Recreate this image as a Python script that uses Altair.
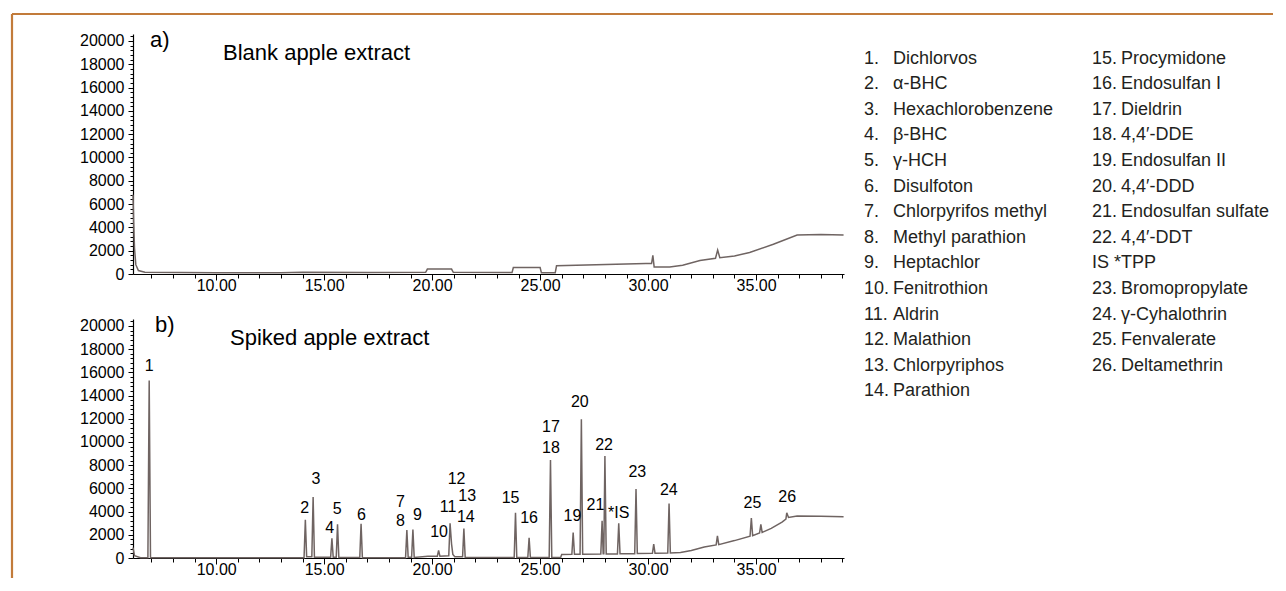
import altair as alt
import pandas as pd

# ---------------- data ----------------
top_time = [6.15, 6.18, 6.22, 6.28, 6.40, 6.70, 10.0, 13.0, 14.0, 17.0,
            19.7, 19.78, 20.9, 20.98, 23.7, 23.76, 25.0, 25.06, 25.7, 25.76,
            29.9, 30.16, 30.22, 30.28, 31.0, 31.6, 32.4, 33.12, 33.22, 33.32,
            34.0, 34.7, 35.8, 36.9, 38.0, 39.05]
top_signal = [6800, 4500, 2200, 800, 300, 150, 100, 100, 150, 130,
              150, 420, 420, 150, 120, 550, 550, 100, 100, 700,
              900, 900, 1600, 600, 600, 750, 1150, 1350, 2050, 1400,
              1550, 1850, 2550, 3350, 3400, 3350]

bottom_time = [6.15, 6.22, 6.50, 6.84, 6.90, 6.96,
               13.50, 14.07, 14.13, 14.19,
               14.43, 14.49, 14.55,
               15.30, 15.36, 15.42,
               15.56, 15.62, 15.68,
               16.65, 16.71, 16.77,
               18.77, 18.83, 18.89,
               19.05, 19.11, 19.17,
               19.80, 20.24, 20.30, 20.36,
               20.77, 20.83, 20.90, 20.96, 21.05,
               21.41, 21.47, 21.53,
               23.80, 23.86, 23.92,
               24.43, 24.49, 24.55,
               25.42, 25.48, 25.54,
               25.95, 26.00,
               26.47, 26.53, 26.59,
               26.85, 26.91, 26.97,
               27.81, 27.87, 27.92,
               27.95, 28.00, 28.06,
               28.58, 28.64, 28.70,
               29.38, 29.44, 29.50,
               30.20, 30.26, 30.32,
               30.91, 30.97, 31.03,
               31.50, 32.00, 32.60,
               33.15, 33.21, 33.27,
               34.00,
               34.72, 34.78, 34.84,
               35.16, 35.22, 35.28,
               35.70, 36.20, 36.38, 36.42, 36.50, 36.90, 38.00, 39.05]
bottom_signal = [900, 200, 30, 30, 15300, 30,
                 30, 30, 3300, 100,
                 100, 5250, 60,
                 60, 1700, 60,
                 60, 2900, 40,
                 40, 2950, 30,
                 30, 2400, 60,
                 60, 2450, 40,
                 150, 150, 650, 150,
                 200, 3000, 1200, 300, 100,
                 100, 2550, 50,
                 40, 3900, 40,
                 40, 1750, 40,
                 40, 8450, 40,
                 40, 300,
                 320, 2200, 320,
                 330, 11950, 330,
                 350, 3200, 360,
                 360, 8800, 350,
                 350, 3000, 360,
                 370, 5950, 380,
                 400, 1200, 400,
                 420, 4700, 430,
                 470, 650, 950,
                 1130, 1900, 1150,
                 1500,
                 1880, 3450, 1920,
                 2150, 2900, 2200,
                 2550, 3100, 3350, 3900, 3500, 3620, 3600, 3550]

peak_labels = ["1", "2", "3", "4", "5", "6", "7", "8", "9", "10", "11", "12", "13", "14",
               "15", "16", "17", "18", "19", "20", "21", "*IS", "22", "23", "24", "25", "26"]
label_time = [6.90, 14.10, 14.62, 15.26, 15.60, 16.73, 18.53, 18.53, 19.32, 20.32, 20.74,
              21.13, 21.62, 21.56, 23.63, 24.49, 25.50, 25.50, 26.50, 26.84, 27.56, 28.64,
              27.96, 29.50, 30.96, 34.83, 36.44]
label_signal = [16550, 4280, 6780, 2560, 4200, 3700, 4850, 3190, 3700, 2270, 4420,
                6780, 5340, 3530, 5200, 3420, 11290, 9510, 3620, 13450, 4540, 3900,
                9740, 7410, 5840, 4720, 5260]

legend_numbers = ["1.", "2.", "3.", "4.", "5.", "6.", "7.", "8.", "9.", "10.", "11.", "12.", "13.", "14.",
                  "15.", "16.", "17.", "18.", "19.", "20.", "21.", "22.", "IS *TPP", "23.", "24.", "25.", "26."]
legend_names = ["Dichlorvos", "α-BHC", "Hexachlorobenzene", "β-BHC", "γ-HCH", "Disulfoton",
                "Chlorpyrifos methyl", "Methyl parathion", "Heptachlor", "Fenitrothion", "Aldrin",
                "Malathion", "Chlorpyriphos", "Parathion",
                "Procymidone", "Endosulfan I", "Dieldrin", "4,4′-DDE", "Endosulfan II", "4,4′-DDD",
                "Endosulfan sulfate", "4,4′-DDT", "", "Bromopropylate", "γ-Cyhalothrin",
                "Fenvalerate", "Deltamethrin"]

panel_tags = ["a)", "b)"]
panel_titles = ["Blank apple extract", "Spiked apple extract"]

# ---------------- styling ----------------
SANS = "Liberation Sans"
TRACE = "#6f6462"
FRAME = "#C27B3A"
TEXT = "#231f20"

x_scale = alt.Scale(domain=[6.15, 39.07], nice=False, zero=False)
y_scale = alt.Scale(domain=[0, 20600], nice=False)

x_axis = alt.Axis(
    values=list(range(7, 40)),
    labelExpr="datum.value % 5 === 0 ? format(datum.value, '.2f') : ''",
    title=None, grid=False, labelOverlap=False, labelFlush=False,
    labelFont=SANS, labelFontSize=16, labelColor="black",
    domainColor="black", tickColor="black", domainWidth=1.2,
    tickSize={"condition": {"test": "datum.value % 5 === 0", "value": 6}, "value": 4},
    labelPadding=-3,
)
y_axis = alt.Axis(
    values=list(range(0, 20401, 400)),
    labelExpr="datum.value % 2000 === 0 ? format(datum.value, 'd') : ''",
    title=None, grid=False, labelOverlap=False, labelFlush=False,
    labelFont=SANS, labelFontSize=16, labelColor="black",
    domainColor="black", tickColor="black", domainWidth=1.2,
    tickSize={"condition": {"test": "datum.value % 2000 === 0", "value": 5}, "value": 3},
    labelPadding=4,
)

W = 711


def trace_layers(time, signal, idx, labels=None):
    df = pd.DataFrame({"t": time, "s": signal, "i": list(range(len(time)))})
    line = alt.Chart(df).mark_line(color=TRACE, strokeWidth=1.5).encode(
        x=alt.X("t:Q", scale=x_scale, axis=x_axis),
        y=alt.Y("s:Q", scale=y_scale, axis=y_axis),
        order="i:Q",
    )
    layers = [line]
    if labels is not None:
        ldf = pd.DataFrame({"t": labels[1], "s": labels[2], "lab": labels[0]})
        layers.append(
            alt.Chart(ldf).mark_text(font=SANS, fontSize=16, color="black",
                                     baseline="middle", align="center").encode(
                x=alt.X("t:Q", scale=x_scale, axis=x_axis),
                y=alt.Y("s:Q", scale=y_scale, axis=y_axis),
                text="lab:N",
            )
        )
    tag_df = pd.DataFrame({"lab": [panel_tags[idx]]})
    layers.append(
        alt.Chart(tag_df).mark_text(font=SANS, fontSize=22, color="black",
                                    align="left", baseline="middle").encode(
            x=alt.value(17 if idx == 0 else 22), y=alt.value(6), text="lab:N")
    )
    title_df = pd.DataFrame({"lab": [panel_titles[idx]]})
    layers.append(
        alt.Chart(title_df).mark_text(font=SANS, fontSize=22, color="black",
                                      align="left", baseline="middle").encode(
            x=alt.value(90 if idx == 0 else 97), y=alt.value(19), text="lab:N")
    )
    return layers


# frame around the figure (decorative)
fdf = pd.DataFrame({"k": [0]})
frame_h = alt.Chart(fdf).mark_rule(color=FRAME, strokeWidth=2.2).encode(
    x=alt.value(-121), x2=alt.value(1140), y=alt.value(-20))
frame_v = alt.Chart(fdf).mark_rule(color=FRAME, strokeWidth=2.2).encode(
    x=alt.value(-121), y=alt.value(-20), y2=alt.value(544))

# legend table (placed to the right of the top panel)
cols, rows = [], []
for k in range(len(legend_numbers)):
    if k < 14:
        cols.append(0)
        rows.append(k)
    else:
        cols.append(1)
        rows.append(k - 14)
leg_df = pd.DataFrame({"col": cols, "row": rows, "num": legend_numbers, "name": legend_names})
lx = alt.X("col:Q", scale=alt.Scale(domain=[0, 1], range=[731, 959], nice=False), axis=None)
ly = alt.Y("row:Q", scale=alt.Scale(domain=[0, 13], range=[29.5, 362.3], nice=False), axis=None)
leg_num = alt.Chart(leg_df).mark_text(font=SANS, fontSize=18, color=TEXT, align="left",
                                      baseline="alphabetic").encode(x=lx, y=ly, text="num:N")
leg_name = alt.Chart(leg_df).mark_text(font=SANS, fontSize=18, color=TEXT, align="left",
                                       baseline="alphabetic", dx=29).encode(x=lx, y=ly, text="name:N")

top = alt.layer(
    *trace_layers(top_time, top_signal, 0), frame_h, frame_v, leg_num, leg_name
).resolve_scale(x="independent", y="independent").properties(width=W, height=240)

bottom = alt.layer(
    *trace_layers(bottom_time, bottom_signal, 1,
                  labels=(peak_labels, label_time, label_signal))
).properties(width=W, height=239)

chart = alt.vconcat(top, bottom, spacing=45, bounds="flush").properties(
    padding={"left": 2, "top": 4, "right": 0, "bottom": 0},
    background="white",
).configure_view(stroke=None)

chart.save("out.html", embed_options={"renderer": "svg", "actions": False})
